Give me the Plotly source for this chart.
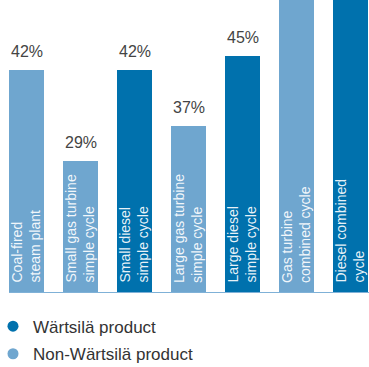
import plotly.graph_objects as go

# ---- data ----
categories = [
    "Coal-fired<br>steam plant",
    "Small gas turbine<br>simple cycle",
    "Small diesel<br>simple cycle",
    "Large gas turbine<br>simple cycle",
    "Large diesel<br>simple cycle",
    "Gas turbine<br>combined cycle",
    "Diesel combined<br>cycle",
]
value_labels = ["42%", "29%", "42%", "37%", "45%", None, None]
bar_heights = [42, 24.9, 42, 31.5, 44.7, 58, 57]
is_wartsila = [False, False, True, False, True, False, True]
legend_names = ["Wärtsilä product", "Non-Wärtsilä product"]

DARK = "#0071ad"
LIGHT = "#6fa6cf"
TEXT = "#444444"
FONT = "Liberation Sans, Arial, sans-serif"

xs = list(range(len(categories)))
colors = [DARK if w else LIGHT for w in is_wartsila]

fig = go.Figure()
fig.add_trace(go.Bar(
    x=xs, y=bar_heights, width=0.648, marker=dict(color=colors, line=dict(width=0)),
    showlegend=False, hoverinfo="skip",
))
for i, (name, col) in enumerate(zip(legend_names, [DARK, LIGHT])):
    fig.add_trace(go.Scatter(
        x=[None], y=[None], mode="markers", name=name, legendgroup=f"g{i}",
        marker=dict(color=col, size=11, symbol="circle"),
    ))

annotations = []
for x, lab, h in zip(xs, value_labels, bar_heights):
    if lab:
        annotations.append(dict(
            x=x, y=h, xref="x", yref="y", text=lab, showarrow=False,
            yanchor="bottom", xanchor="center", yshift=8,
            font=dict(family=FONT, size=16, color=TEXT),
        ))
for x, cat in zip(xs, categories):
    annotations.append(dict(
        x=x, y=0, xref="x", yref="y", text=cat, showarrow=False,
        textangle=-90, yanchor="bottom", xanchor="center", align="left",
        yshift=8, xshift=-1,
        font=dict(family=FONT, size=14, color="rgba(255,255,255,0.92)"),
    ))

fig.add_shape(type="line", xref="x", yref="y", x0=-0.324, x1=6.5, y0=0, y1=0,
              line=dict(color="#7fb1d7", width=2))

fig.update_layout(
    width=369, height=367,
    margin=dict(l=0, r=0, t=0, b=74, autoexpand=False),
    paper_bgcolor="white", plot_bgcolor="white",
    xaxis=dict(range=[-0.4907, 6.3426], visible=False, fixedrange=True),
    yaxis=dict(range=[0, 55.18], visible=False, fixedrange=True),
    bargap=0,
    annotations=annotations,
    showlegend=True,
    legend=dict(
        x=-0.019, xanchor="left", y=-0.0532, yanchor="top", orientation="v",
        font=dict(family=FONT, size=17, color="#333333"),
        bgcolor="rgba(0,0,0,0)", itemwidth=30, tracegroupgap=2.5,
    ),
)

fig.write_html(
    "out.html",
    config={"displayModeBar": False, "staticPlot": True},
    post_script="document.body.style.margin='0';",
)
